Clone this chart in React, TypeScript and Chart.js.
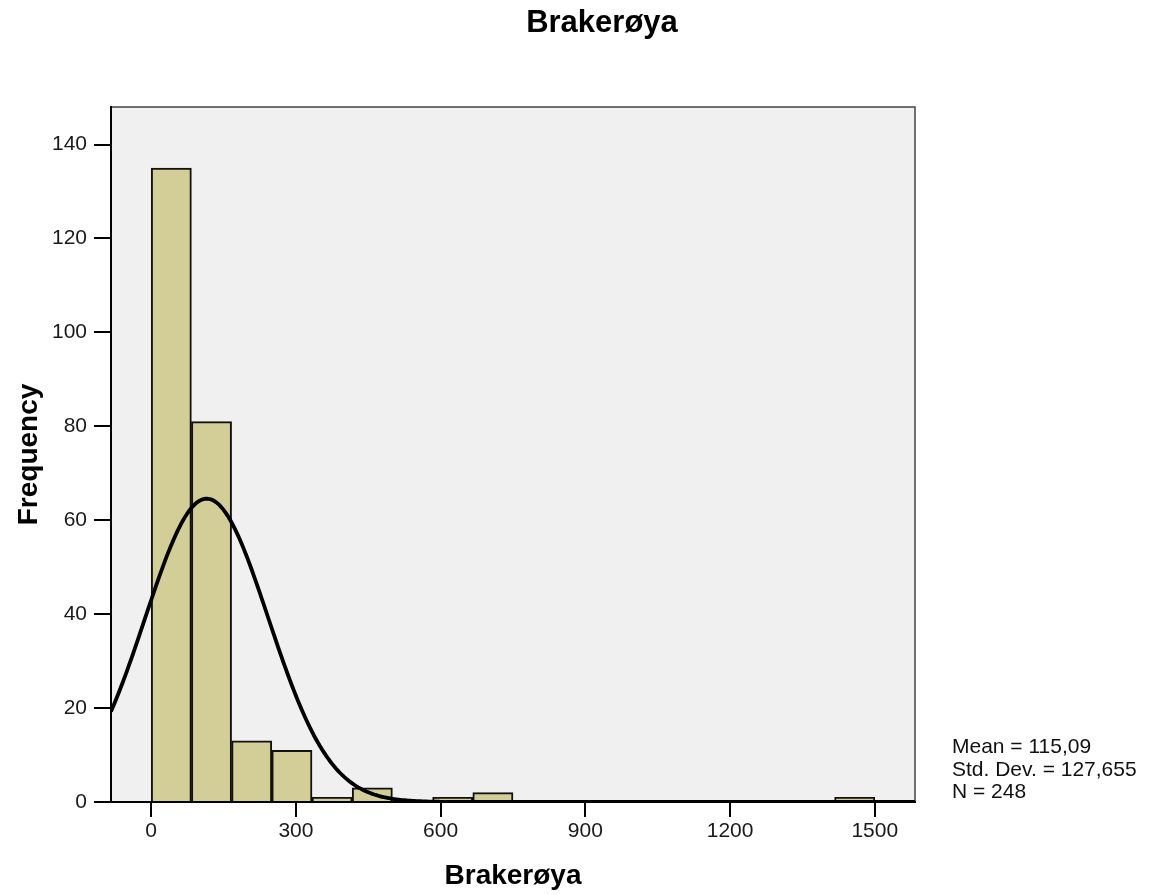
import React, { useEffect, useRef } from "react";
import { Chart, registerables } from "chart.js";

Chart.register(...registerables);

const FONT = "'Liberation Sans', Arial, Helvetica, sans-serif";

const TITLE = "Brakerøya";
const X_TITLE = "Brakerøya";
const Y_TITLE = "Frequency";

// Histogram bins: lower edges (bin width 1500/18) and their frequencies
const BIN_WIDTH = 83.333;
const binLower = [0, 83.333, 166.667, 250, 333.333, 416.667, 583.333, 666.667, 1416.667];
const binCount = [135, 81, 13, 11, 1, 3, 1, 2, 1];

// Summary statistics of the sample (also used for the fitted normal curve)
const MEAN = 115.09;
const STD_DEV = 127.655;
const N = 248;
const statLines = ["Mean = 115,09", "Std. Dev. = 127,655", "N = 248"];

const xTicks = [0, 300, 600, 900, 1200, 1500];
const yTicks = [0, 20, 40, 60, 80, 100, 120, 140];
const X_MIN = -83.333;
const X_MAX = 1583.333;
const Y_MAX = 148;

function normalCurve() {
  const pts: { x: number; y: number }[] = [];
  const steps = 400;
  const scale = (N * BIN_WIDTH) / (STD_DEV * Math.sqrt(2 * Math.PI));
  for (let i = 0; i <= steps; i++) {
    const x = X_MIN + ((X_MAX - X_MIN) * i) / steps;
    const z = (x - MEAN) / STD_DEV;
    pts.push({ x, y: scale * Math.exp(-0.5 * z * z) });
  }
  return pts;
}

const framePlugin = {
  id: "histFrame",
  beforeDraw(chart: any) {
    const { ctx, chartArea: a } = chart;
    ctx.save();
    ctx.fillStyle = "#ffffff";
    ctx.fillRect(0, 0, chart.width, chart.height);
    ctx.fillStyle = "#f0f0f0";
    ctx.fillRect(a.left, a.top, a.right - a.left, a.bottom - a.top);
    ctx.strokeStyle = "#444444";
    ctx.lineWidth = 1.5;
    ctx.beginPath();
    ctx.moveTo(a.left, a.top);
    ctx.lineTo(a.right, a.top);
    ctx.lineTo(a.right, a.bottom);
    ctx.stroke();
    ctx.restore();
  },
  afterDraw(chart: any) {
    const { ctx, chartArea: a } = chart;
    ctx.save();
    ctx.fillStyle = "#000000";
    ctx.textAlign = "center";
    ctx.textBaseline = "alphabetic";
    ctx.font = `bold 31px ${FONT}`;
    ctx.fillText(TITLE, 602, 32);

    ctx.textAlign = "left";
    ctx.fillStyle = "#111111";
    ctx.font = `21px ${FONT}`;
    const x = a.right + 37;
    statLines.forEach((line, i) => {
      ctx.fillText(line, x, a.bottom - 49 + i * 22.5);
    });
    ctx.restore();
  },
};

export default function App() {
  const canvasRef = useRef<HTMLCanvasElement | null>(null);

  useEffect(() => {
    const canvas = canvasRef.current;
    if (!canvas) return;

    const bars = binLower.map((lo, i) => ({ x: lo + BIN_WIDTH / 2, y: binCount[i] }));

    const tickFont = { family: FONT, size: 21 };
    const titleFont = { family: FONT, size: 28, weight: "bold" as const };

    const chart = new Chart(canvas, {
      type: "bar",
      data: {
        datasets: [
          {
            type: "line",
            label: "Normal",
            data: normalCurve(),
            borderColor: "#000000",
            borderWidth: 3.8,
            pointRadius: 0,
            tension: 0,
            fill: false,
            order: 0,
          } as any,
          {
            type: "bar",
            label: "Frequency",
            data: bars,
            backgroundColor: "#d3ce97",
            borderColor: "#111111",
            borderWidth: 2,
            borderSkipped: "start",
            barPercentage: 1,
            categoryPercentage: 1,
            order: 1,
          } as any,
        ],
      },
      options: {
        responsive: false,
        animation: false,
        layout: { padding: { top: 107, right: 236, bottom: 0, left: 0 } },
        plugins: {
          legend: { display: false },
          tooltip: { enabled: false },
          title: { display: false },
        },
        scales: {
          x: {
            type: "linear",
            min: X_MIN,
            max: X_MAX,
            offset: false,
            z: 1,
            afterBuildTicks: (s: any) => {
              s.ticks = xTicks.map((v) => ({ value: v }));
            },
            afterFit: (s: any) => {
              s.height = 93;
            },
            ticks: {
              font: tickFont,
              color: "#1a1a1a",
              padding: 2,
              maxRotation: 0,
              autoSkip: false,
              callback: (v: any) => String(v),
            },
            grid: {
              offset: false,
              drawOnChartArea: false,
              drawTicks: true,
              tickLength: 15,
              color: "#000000",
              lineWidth: 2,
            },
            border: { display: true, color: "#000000", width: 2 },
            title: {
              display: true,
              text: X_TITLE,
              font: titleFont,
              color: "#000000",
              padding: { top: 0, bottom: 1.5 },
            },
          },
          y: {
            type: "linear",
            min: 0,
            max: Y_MAX,
            z: 1,
            afterBuildTicks: (s: any) => {
              s.ticks = yTicks.map((v) => ({ value: v }));
            },
            afterFit: (s: any) => {
              s.width = 111;
            },
            ticks: {
              font: tickFont,
              color: "#1a1a1a",
              padding: 7,
              autoSkip: false,
              callback: (v: any) => String(v),
            },
            grid: {
              drawOnChartArea: false,
              drawTicks: true,
              tickLength: 17,
              color: "#000000",
              lineWidth: 2,
            },
            border: { display: true, color: "#000000", width: 2 },
            title: {
              display: true,
              text: Y_TITLE,
              font: titleFont,
              color: "#000000",
              padding: { top: 12, bottom: 0 },
            },
          },
        },
      } as any,
      plugins: [framePlugin],
    });

    return () => chart.destroy();
  }, []);

  return (
    <div style={{ position: "absolute", left: 0, top: 0, width: 1151, height: 895 }}>
      <canvas ref={canvasRef} width={1151} height={895} style={{ display: "block" }} />
    </div>
  );
}
